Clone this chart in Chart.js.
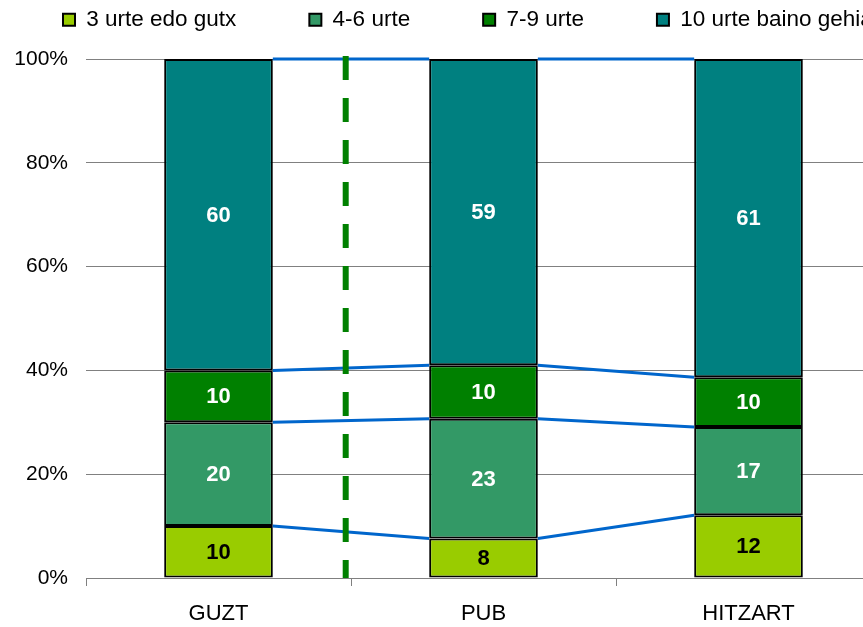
<!DOCTYPE html>
<html>
<head>
<meta charset="utf-8">
<script src="https://cdn.jsdelivr.net/npm/chart.js@4.4.1/dist/chart.umd.min.js"></script>
<style>
  html, body { margin: 0; padding: 0; background: #ffffff; overflow: hidden; }
  #wrap { width: 863px; height: 627px; overflow: hidden; position: relative; }
  #c { position: absolute; left: 0; top: 0; }
</style>
</head>
<body>
<div id="wrap"><canvas id="c" width="1100" height="627"></canvas></div>
<script>
// ---- data ----
const categories = ['GUZT', 'PUB', 'HITZART'];
const seriesNames = ['3 urte edo gutx', '4-6 urte', '7-9 urte', '10 urte baino gehiago'];
const series1 = [10, 7.6, 12.1];   // 3 urte edo gutx
const series2 = [20, 23.1, 17.0];  // 4-6 urte
const series3 = [10, 10.3, 9.6];   // 7-9 urte
const series4 = [60, 59.0, 61.3];  // 10 urte baino gehiago
const yTickValues = [0, 20, 40, 60, 80, 100];
const dividerAt = 0.48; // category-axis position of the dashed divider

const seriesValues = [series1, series2, series3, series4];
const seriesColors = ['#99CC00', '#339966', '#008000', '#008080'];
const labelColors = ['#000000', '#ffffff', '#ffffff', '#ffffff'];
const FONT = "'Liberation Sans', Arial, Helvetica, sans-serif";

Chart.defaults.font.family = FONT;
Chart.defaults.font.size = 21;
Chart.defaults.color = '#000000';

const overlayPlugin = {
  id: 'overlay',
  afterDatasetsDraw(chart) {
    const ctx = chart.ctx;
    const n = chart.data.datasets.length;
    ctx.save();
    // series lines joining the stacked segment boundaries
    ctx.strokeStyle = '#0066CC';
    ctx.lineWidth = 3;
    for (let i = 0; i < n; i++) {
      const els = chart.getDatasetMeta(i).data;
      for (let j = 0; j < els.length - 1; j++) {
        const a = els[j], b = els[j + 1];
        ctx.beginPath();
        ctx.moveTo(a.x + a.width / 2, a.y);
        ctx.lineTo(b.x - b.width / 2, b.y);
        ctx.stroke();
      }
    }
    // dashed green divider
    const xs = chart.scales.x, ys = chart.scales.y;
    const dx = xs.getPixelForValue(dividerAt);
    ctx.strokeStyle = '#008000';
    ctx.lineWidth = 6;
    ctx.setLineDash([24, 18]);
    ctx.beginPath();
    ctx.moveTo(dx, ys.getPixelForValue(100) - 3);
    ctx.lineTo(dx, ys.getPixelForValue(0));
    ctx.stroke();
    ctx.setLineDash([]);
    // value labels
    ctx.font = 'bold 22px ' + FONT;
    ctx.textAlign = 'center';
    ctx.textBaseline = 'middle';
    for (let i = 0; i < n; i++) {
      const els = chart.getDatasetMeta(i).data;
      els.forEach((el, j) => {
        const c = el.getCenterPoint();
        ctx.fillStyle = labelColors[i];
        ctx.fillText(String(Math.round(seriesValues[i][j])), c.x, c.y + 1);
      });
    }
    ctx.restore();
  }
};

new Chart(document.getElementById('c'), {
  type: 'bar',
  data: {
    labels: categories,
    datasets: seriesValues.map((vals, i) => ({
      label: seriesNames[i],
      data: vals,
      backgroundColor: seriesColors[i],
      borderColor: '#000000',
      borderWidth: 2,
      borderSkipped: false,
      barPercentage: 0.41,
      categoryPercentage: 1
    }))
  },
  options: {
    responsive: false,
    animation: false,
    layout: { padding: { left: -10, right: 10, top: -64.5, bottom: 0 } },
    plugins: {
      legend: {
        position: 'top',
        align: 'start',
        onClick: null,
        labels: {
          boxWidth: 12,
          boxHeight: 12,
          padding: 73,
          color: '#000000',
          font: { size: 22.5, family: FONT }
        }
      },
      tooltip: { enabled: false }
    },
    scales: {
      x: {
        stacked: true,
        position: 'bottom',
        offset: true,
        grid: { offset: true, drawOnChartArea: false, drawTicks: true, tickLength: 8, color: '#808080', lineWidth: 1 },
        border: { display: true, color: '#808080', width: 1 },
        ticks: { padding: 15, color: '#000000', font: { size: 22 } },
        afterFit: s => { s.height = 49; }
      },
      xTop: {
        type: 'category',
        position: 'top',
        display: true,
        grid: { display: false },
        border: { display: false },
        ticks: { display: false },
        afterFit: s => { s.height = 18; }
      },
      y: {
        stacked: true,
        position: 'left',
        min: 0,
        max: 100,
        afterBuildTicks: s => { s.ticks = yTickValues.map(v => ({ value: v })); },
        ticks: { padding: 18, color: '#000000', font: { size: 21 }, callback: v => v + '%' },
        grid: { color: '#808080', lineWidth: 1, drawTicks: false },
        border: { display: false },
        afterFit: s => { s.width = 96; }
      },
      yR: {
        type: 'linear',
        position: 'right',
        display: true,
        grid: { display: false },
        border: { display: false },
        ticks: { display: false },
        afterFit: s => { s.width = 209; }
      }
    }
  },
  plugins: [overlayPlugin]
});
</script>
</body>
</html>
